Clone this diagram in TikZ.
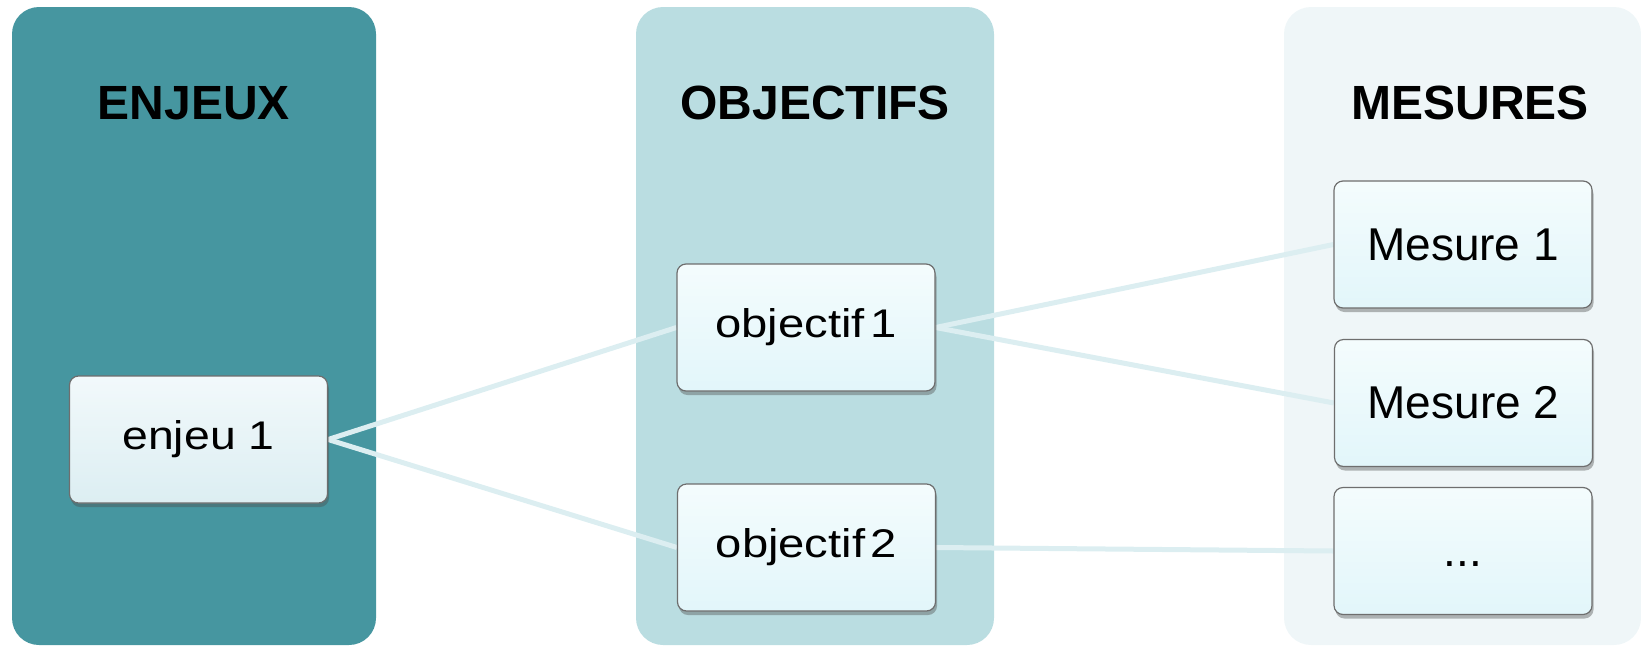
\documentclass[tikz,border=0pt]{standalone}
\usepackage{fontspec}
\setmainfont{Liberation Sans}
\usepackage{graphicx}
\usetikzlibrary{shadows}
\definecolor{colA}{HTML}{4696A0}
\definecolor{colB}{HTML}{BADDE1}
\definecolor{colC}{HTML}{EFF6F8}
\definecolor{cardtop}{HTML}{F4FCFD}
\definecolor{cardbot}{HTML}{E2F6FA}
\definecolor{enjtop}{HTML}{F2F9FB}
\definecolor{enjbot}{HTML}{DCEEF2}
\definecolor{cardline}{HTML}{6E6E6E}
\definecolor{linkcol}{HTML}{DCEEF1}
\pgfdeclarelayer{back}
\pgfdeclarelayer{mid}
\pgfsetlayers{back,mid,main}
\begin{document}
\begin{tikzpicture}[x=1pt,y=-1pt,
  column/.style={rounded corners=27pt},
  heading/.style={font=\bfseries\fontsize{48}{50}\selectfont, anchor=base, inner sep=0pt},
  card/.style={draw=cardline, line width=1.2pt, rounded corners=9pt,
    top color=cardtop, bottom color=cardbot,
    minimum width=258pt, minimum height=127pt, inner sep=0pt,
    drop shadow={shadow xshift=1.5pt, shadow yshift=-4pt, opacity=.4, fill=black!70}},
  enjcard/.style={top color=enjtop, bottom color=enjbot},
  smalltext/.style={font=\fontsize{40}{44}\selectfont},
  bigtext/.style={font=\fontsize{46}{50}\selectfont},
  link/.style={draw=linkcol, line width=5pt}]
\useasboundingbox (0,0) rectangle (1641,646);
\begin{pgfonlayer}{back}
  \fill[colA, column] (12,7) rectangle (376,645);
  \fill[colB, column] (636,7) rectangle (994,645);
  \fill[colC, column] (1284,7) rectangle (1641,645);
\end{pgfonlayer}
\node[heading] (hA) at (194,119) {ENJEUX};
\node[heading] (hB) at (815,119) {OBJECTIFS};
\node[heading] (hC) at (1470,119) {MESURES};

\node[card, enjcard, smalltext] (e1) at (198.5,439.5) {\scalebox{1.16}[1]{enjeu 1}};
\node[card, smalltext] (o1) at (806,327.5) {\scalebox{1.18}[1]{objectif\hspace{0.12em}1}};
\node[card, smalltext] (o2) at (806.5,547.5) {\scalebox{1.18}[1]{objectif\hspace{0.12em}2}};
\node[card, bigtext] (m1) at (1463,244.5) {Mesure 1};
\node[card, bigtext] (m2) at (1463.5,403) {Mesure 2};
\node[card, bigtext] (m3) at (1463,551) {\vphantom{M}...};

\begin{pgfonlayer}{mid}
  \draw[link] (e1.east) -- (o1.west);
  \draw[link] (e1.east) -- (o2.west);
  \draw[link] (o1.east) -- (m1.west);
  \draw[link] (o1.east) -- (m2.west);
  \draw[link] (o2.east) -- (m3.west);
\end{pgfonlayer}
\end{tikzpicture}
\end{document}
